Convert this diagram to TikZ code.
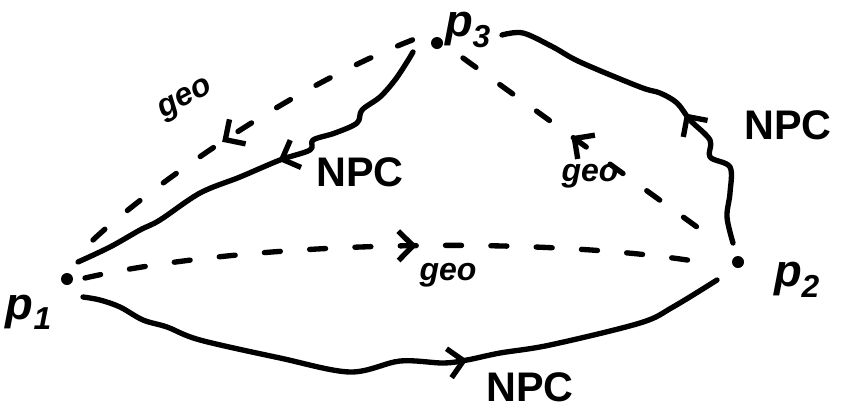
\documentclass[tikz,border=0pt]{standalone}
\usepackage{fontspec}
\setsansfont{Liberation Sans}
\usetikzlibrary{decorations.markings,arrows.meta}
\begin{document}
\begin{tikzpicture}[x=0.75pt,y=-0.75pt,
  stroke/.style={line width=4pt,line cap=round,line join=round},
  geoline/.style={stroke,dash pattern=on 12pt off 22pt},
  npcline/.style={stroke},
  fwd/.style={postaction={decorate},decoration={markings,mark=at position #1 with {\arrow[line width=4pt]{Straight Barb[length=11pt,width=22pt]}}}},
  bwd/.style={postaction={decorate},decoration={markings,mark=at position #1 with {\arrowreversed[line width=4pt]{Straight Barb[length=11pt,width=22pt]}}}},
  lbl/.style={font=\sffamily\bfseries\fontsize{31}{31}\selectfont},
  geolbl/.style={font=\sffamily\bfseries\itshape\fontsize{24}{24}\selectfont},
  plbl/.style={font=\sffamily\bfseries\itshape\fontsize{34}{34}\selectfont},
  dot/.style={circle,fill,inner sep=0pt,minimum size=9pt}
]
\useasboundingbox (0,0) rectangle (843,415);
% points
\node[dot] (p1) at (67,279) {};
\node[dot] (p2) at (738,262) {};
\node[dot] (p3) at (437,43) {};
\node[plbl] (l1) at (29,312) {p\textsubscript{1}};
\node[plbl] (l2) at (797,280) {p\textsubscript{2}};
\node[plbl] (l3) at (468,30) {p\textsubscript{3}};
% endpoints
\coordinate (a13) at (93,240);
\coordinate (b13) at (420,37);
\coordinate (a12) at (85,278);
\coordinate (b12) at (712,264);
\coordinate (a32) at (463,58);
\coordinate (b32) at (715,240);
\coordinate (n31s) at (413,52);
\coordinate (n31e) at (78,262);
\coordinate (n12s) at (83,297);
\coordinate (n12e) at (717,280);
\coordinate (n23s) at (733,243);
\coordinate (n23e) at (502,35);
% geodesics (dashed)
\draw[geoline,bwd=0.42] (a13) .. controls (135,200) and (280,90) .. (b13);
\draw[geoline,fwd=0.53] (a12) .. controls (250,240) and (550,235) .. (b12);
\draw[geoline,bwd=0.43] (a32) -- (b32);
% NPC paths (wavy)
\draw[npcline,fwd=0.45] plot[smooth,tension=0.55] coordinates {(n31s) (407,62) (395,80) (380,97) (362,110) (357,123) (335,133) (313,140) (310,150) (280,160) (240,177) (200,193) (160,220) (140,230) (110,247) (n31e)};
\draw[npcline,fwd=0.60] plot[smooth,tension=0.55] coordinates {(n12s) (100,300) (120,307) (143,320) (167,327) (200,340) (280,358) (350,372) (400,361) (443,363) (467,360) (500,353) (550,345) (640,323) (673,307) (n12e)};
\draw[npcline,fwd=0.43] plot[smooth,tension=0.55] coordinates {(n23s) (727,217) (730,193) (730,167) (710,157) (710,140) (690,120) (677,103) (660,93) (640,87) (580,62) (553,47) (523,33) (n23e)};
% labels
\node[lbl] (t1) at (360,172) {NPC};
\node[lbl] (t2) at (530,387) {NPC};
\node[lbl] (t3) at (788,125) {NPC};
\node[geolbl,rotate=28] (g1) at (186,100) {geo};
\node[geolbl] (g2) at (448,275) {geo};
\node[geolbl] (g3) at (590,176) {geo};
\end{tikzpicture}
\end{document}
